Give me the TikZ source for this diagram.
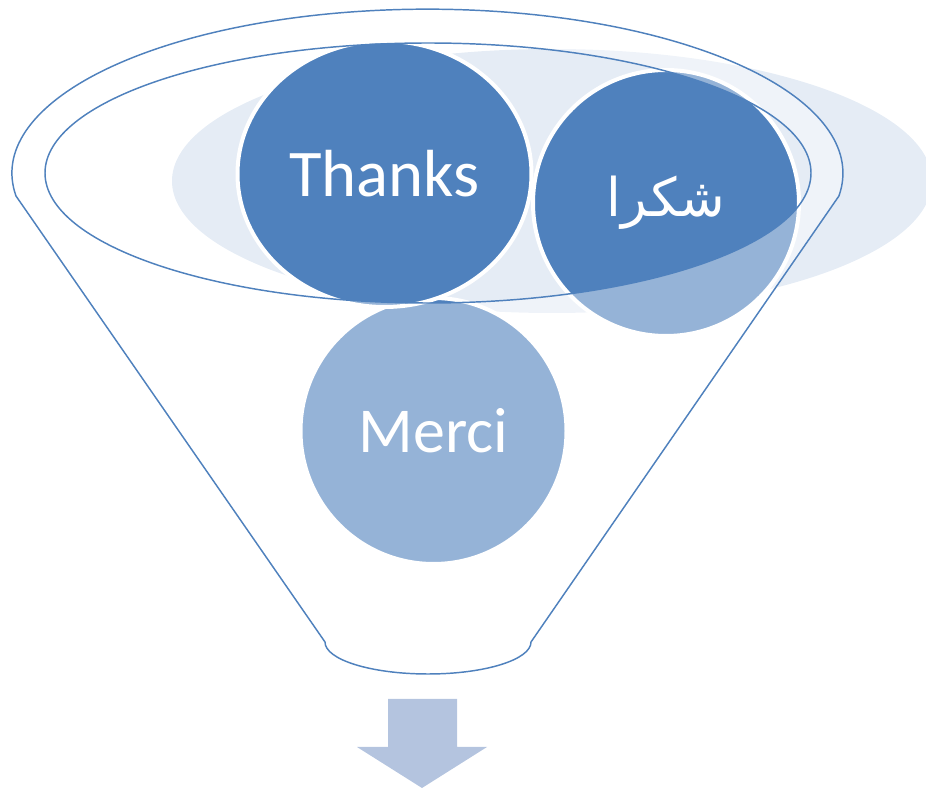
\documentclass[tikz,border=0pt]{standalone}
\usepackage{fontspec}
\setmainfont{Carlito}
\newfontfamily\arabicfont[Script=Arabic]{DejaVu Sans}
\TeXXeTstate=1
\usetikzlibrary{shapes.geometric}

\definecolor{accent}{RGB}{79,129,189}
\definecolor{haze}{RGB}{229,236,245}
\definecolor{arrowblue}{RGB}{180,196,223}

\begin{document}
\begin{tikzpicture}[x=0.75pt, y=-0.75pt,
  bubble/.style={ellipse, fill=accent, draw=white, line width=3pt, text=white, inner sep=0pt},
  funnel/.style={draw=accent, line width=1.1pt, fill=white, fill opacity=0.4, draw opacity=1, even odd rule}]
\useasboundingbox (0,0) rectangle (926,791);
% haze behind the bubbles
\fill[haze] (552,181) ellipse [x radius=380, y radius=132];
% bubbles
\node[bubble, minimum width=199.5pt, minimum height=199.5pt, font=\fontsize{48}{58}\selectfont] (merci) at (433.5,431) {Merci};
\node[bubble, minimum width=220.5pt, minimum height=199.5pt, font=\fontsize{50}{60}\selectfont] (thanks) at (384.5,174) {Thanks};
\node[bubble, minimum width=199.5pt, minimum height=199.5pt, font=\fontsize{40}{48}\selectfont] (shukran) at (666,203) {\arabicfont\beginR شكرا\endR};
% funnel
\draw[funnel] (16,196) arc[start angle=172, end angle=368, x radius=415.5, y radius=164] -- (531,642)
  arc[start angle=0, end angle=180, x radius=103, y radius=32] -- cycle
  (428,173) ellipse [x radius=383, y radius=130];
% arrow
\fill[arrowblue] (388,699) -- (457,699) -- (457,747) -- (487,747) -- (422,788) -- (357,747) -- (388,747) -- cycle;
\end{tikzpicture}
\end{document}
